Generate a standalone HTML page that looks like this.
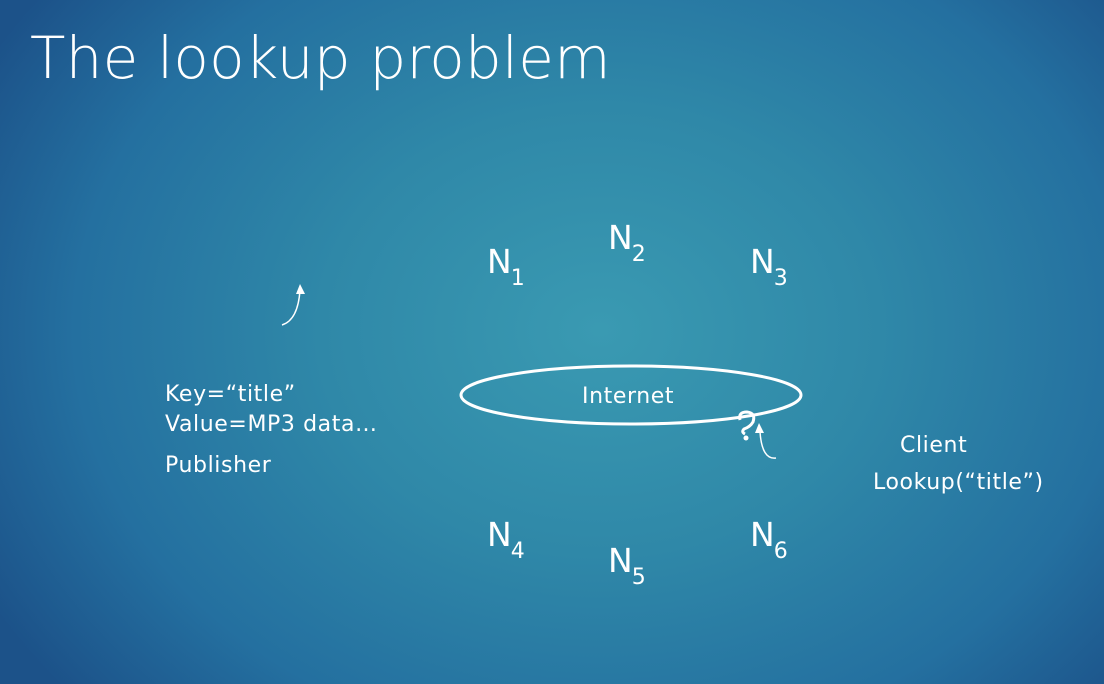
<!DOCTYPE html>
<html><head><meta charset="utf-8"><style>
html,body{margin:0;padding:0}
body{width:1104px;height:684px;overflow:hidden;position:relative;
background:radial-gradient(ellipse 700px 560px at 600px 330px,#3a9ab2 0%,#2f88a8 40%,#2470a0 75%,#1c5289 100%);
font-family:"DejaVu Sans","Liberation Sans",sans-serif;color:#fff}
.t{position:absolute;white-space:nowrap}
.n{font-size:33px}
.n sub{font-size:22px;vertical-align:-12px;margin-left:-1px}
.s{font-size:22px;letter-spacing:0.6px}
</style></head><body>
<div class="t" style="left:30px;top:24px;font-size:58px;font-weight:200;letter-spacing:0.2px">The lookup problem</div>
<div class="t n" style="left:487px;top:242px">N<sub>1</sub></div>
<div class="t n" style="left:608px;top:218px">N<sub>2</sub></div>
<div class="t n" style="left:750px;top:242px">N<sub>3</sub></div>
<div class="t n" style="left:487px;top:515px">N<sub>4</sub></div>
<div class="t n" style="left:608px;top:541px">N<sub>5</sub></div>
<div class="t n" style="left:750px;top:515px">N<sub>6</sub></div>
<div class="t s" style="left:165px;top:380px;line-height:30px">Key=“title”<br>Value=MP3 data…</div>
<div class="t s" style="left:165px;top:453px">Publisher</div>
<div class="t s" style="left:582px;top:384px">Internet</div>
<div class="t s" style="left:900px;top:433px">Client</div>
<div class="t s" style="left:873px;top:470px">Lookup(“title”)</div>
<svg width="1104" height="684" style="position:absolute;left:0;top:0">
<ellipse cx="631" cy="395" rx="170" ry="29" fill="none" stroke="#fff" stroke-width="3"/>
<path d="M282 325 Q298 320 300 290" fill="none" stroke="#fff" stroke-width="1.5"/>
<polygon points="300,284 296,294 305,294" fill="#fff"/>
<path d="M776 458 Q762 460 760 432" fill="none" stroke="#fff" stroke-width="1.5"/>
<polygon points="759,423 755,433 764,433" fill="#fff"/>
<path d="M740 420 Q738 412 747 412 Q756 413 753 422 Q750 427 744 429 Q741 432 745 434" fill="none" stroke="#fff" stroke-width="3"/>
<circle cx="746" cy="438" r="2.5" fill="#fff"/>
</svg>
</body></html>
